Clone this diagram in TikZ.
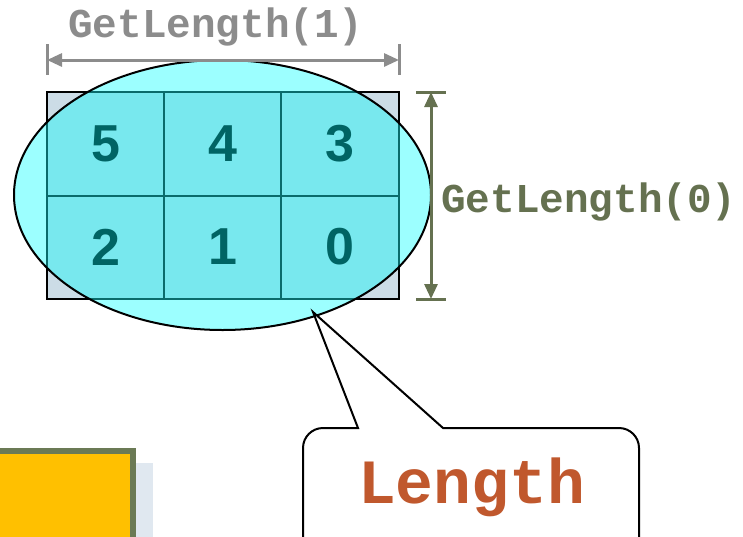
\documentclass[tikz,border=0pt]{standalone}
\usepackage{fontspec}
\setmainfont{Liberation Sans}
\newfontfamily\codefont{Liberation Mono}
\usetikzlibrary{arrows.meta}
\definecolor{rectgray}{HTML}{CCDCE6}
\definecolor{lightcyan}{HTML}{9CFFFF}
\definecolor{cellcyan}{HTML}{78E8EE}
\definecolor{gridteal}{HTML}{0A6B6B}
\definecolor{digitteal}{HTML}{006464}
\definecolor{dimgray}{HTML}{8C8C8C}
\definecolor{dimolive}{HTML}{657150}
\definecolor{lenorange}{HTML}{C0582D}
\definecolor{boxyellow}{HTML}{FFC000}
\definecolor{boxolive}{HTML}{6B7A55}
\definecolor{shadowblue}{HTML}{E0E8F0}
\tikzset{
  digit/.style={font=\bfseries\fontsize{52}{52}\selectfont, text=digitteal, inner sep=0pt},
  codelabel/.style={font=\codefont\bfseries\fontsize{41}{41}\selectfont, inner sep=0pt},
  dimline/.style={line width=3pt, {Triangle[length=15pt,width=13pt]}-{Triangle[length=15pt,width=13pt]}},
  ticks/.style={line width=3pt},
}
\begin{document}
\begin{tikzpicture}[x=1pt,y=-1pt]
\useasboundingbox (0,0) rectangle (743,536);

% grid background rectangle
\coordinate (gridNW) at (47,92);
\coordinate (gridSE) at (399,299);
\fill[rectgray] (gridNW) rectangle (gridSE);
\draw[line width=2pt] (gridNW) rectangle (gridSE);

% the ellipse covering the grid
\coordinate (ellC) at (222.5,195);
\fill[lightcyan] (ellC) ellipse [x radius=208.5, y radius=135];
\begin{scope}
  \clip (ellC) ellipse [x radius=208.5, y radius=135];
  \fill[cellcyan] (gridNW) rectangle (gridSE);
  \draw[gridteal, line width=2pt] (gridNW) rectangle (gridSE);
  \draw[gridteal, line width=2pt] (164,92) -- (164,299) (281,92) -- (281,299) (47,196) -- (399,196);
\end{scope}
\draw[line width=2pt] (ellC) ellipse [x radius=208.5, y radius=135];

% cell numbers
\foreach \n/\x/\y in {5/105.5/144, 4/222.5/144, 3/340/144, 2/105.5/247, 1/222.5/247, 0/340/247}{
  \node[digit] (cell\n) at (\x,\y) {\n};
}

% horizontal dimension
\coordinate (h1) at (47,60);
\coordinate (h2) at (399,60);
\draw[dimgray, ticks] (47,44) -- (47,75) (399,44) -- (399,75);
\draw[dimgray, dimline] (h1) -- (h2);
\node[codelabel, text=dimgray, anchor=base] (len1) at (216,37) {GetLength(1)};

% vertical dimension
\coordinate (v1) at (431,92);
\coordinate (v2) at (431,299);
\draw[dimolive, ticks] (416,92) -- (446,92) (416,299) -- (446,299);
\draw[dimolive, dimline] (v1) -- (v2);
\node[codelabel, text=dimolive, anchor=west] (len0) at (441,202) {GetLength(0)};

% callout
\coordinate (tip) at (313,312);
\draw[line width=2pt, fill=white]
  (303,560) [rounded corners=20pt] -- (303,428) [sharp corners] -- (358,428) -- (tip) -- (443,428)
  [rounded corners=20pt] -- (639,428) -- (639,560);
\node[codelabel, text=lenorange, font=\codefont\bfseries\fontsize{63}{63}\selectfont, anchor=base] (lenlabel) at (471.5,503) {Length};

% yellow box at the lower left
\fill[shadowblue] (100,463) rectangle (153,560);
\fill[boxolive] (-20,448) rectangle (136,560);
\fill[boxyellow] (-20,454) rectangle (130,560);
\end{tikzpicture}
\end{document}
